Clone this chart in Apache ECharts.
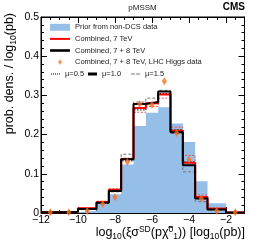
<!DOCTYPE html>
<html>
<head>
<meta charset="utf-8">
<script src="https://cdn.jsdelivr.net/npm/echarts@6/dist/echarts.min.js"></script>
<style>
html,body{margin:0;padding:0;background:#fff;}
#c{width:258px;height:247px;}
</style>
</head>
<body>
<div id="c"></div>
<script>
// Bin edges (log10 of cross section, variable width)
const edges = [-12, -11, -10, -9, -8.333, -7.667, -7, -6.333, -5.667, -5, -4.333, -3.667, -3, -2, -1];
// Prior from non-DCS data
const prior = [0.001, 0.002, 0.006, 0.023, 0.048, 0.124, 0.222, 0.256, 0.270, 0.228, 0.181, 0.081, 0.025, 0.000];
// Combined, 7 TeV (mu = 1.0)
const comb7 = [0.002, 0.003, 0.012, 0.028, 0.059, 0.138, 0.268, 0.280, 0.302, 0.210, 0.128, 0.041, 0.011, 0.001];
// Combined, 7 TeV, mu variation
const comb7mu = [0.002, 0.003, 0.013, 0.030, 0.062, 0.140, 0.257, 0.272, 0.293, 0.219, 0.147, 0.046, 0.013, 0.001];
// Combined, 7 + 8 TeV (mu = 1.0)
const comb78 = [0.002, 0.003, 0.010, 0.026, 0.056, 0.137, 0.278, 0.283, 0.310, 0.206, 0.122, 0.037, 0.009, 0.001];
// Combined, 7 + 8 TeV, mu = 0.5
const comb78mu05 = [0.002, 0.003, 0.010, 0.026, 0.055, 0.133, 0.263, 0.280, 0.305, 0.212, 0.130, 0.040, 0.010, 0.001];
// Combined, 7 + 8 TeV, mu = 1.5
const comb78mu15 = [0.002, 0.003, 0.009, 0.025, 0.054, 0.150, 0.283, 0.293, 0.313, 0.203, 0.105, 0.029, 0.008, 0.001];
// Combined, 7 + 8 TeV, LHC Higgs data (points at bin centres)
const higgs = [0.002, 0.002, 0.005, 0.023, 0.041, 0.130, 0.278, 0.276, 0.336, 0.204, 0.136, 0.037, 0.005, 0.002];
// Tick labels
const xTicks = [-12, -10, -8, -6, -4, -2];
const yTicks = [0, 0.1, 0.2, 0.3, 0.4, 0.5];

function stepData(vals) {
  return edges.map((e, i) => [e, i < vals.length ? vals[i] : vals[vals.length - 1]]);
}
const centres = higgs.map((v, i) => [(edges[i] + edges[i + 1]) / 2, v]);

const FONT = 'Liberation Sans';
const chart = echarts.init(document.getElementById('c'), null, {renderer: 'canvas'});
const fmtX = v => xTicks.indexOf(v) >= 0 ? (v < 0 ? '\u2212' + (-v) : String(v)) : '';
const fmtY = v => {
  const r = Math.round(v * 10) / 10;
  return yTicks.indexOf(r) >= 0 && Math.abs(r - v) < 1e-6 ? String(r) : '';
};

const lineBase = {type: 'line', step: 'end', symbol: 'none', showSymbol: false, silent: true, animation: false};
const legText = {fontFamily: FONT, fontSize: 7.5, color: '#222', lineHeight: 11.6};

const ICON_RED = 'path://M0,0H20V2H0Z';
const ICON_BLACK = 'path://M0,0H20V2.6H0Z';
const ICON_DIAMOND = 'path://M2,0L2.4,1.6L4,3.5L2.4,5.4L2,7L1.6,5.4L0,3.5L1.6,1.6Z';
const ICON_DOT = 'path://M0,0H1V1H0Z M2,0H3V1H2Z M4,0H5V1H4Z M6,0H7V1H6Z M8,0H9V1H8Z';
const ICON_THICK = 'path://M0,0H9V3H0Z';
const ICON_DASH = 'path://M0,0H4V0.8H0Z M5,0H9V0.8H5Z';

chart.setOption({
  animation: false,
  backgroundColor: '#fff',
  grid: {left: 41, right: 13.5, top: 17, bottom: 34, show: true, borderColor: '#000', borderWidth: 1, backgroundColor: 'transparent'},
  xAxis: [{
    type: 'value', min: -12, max: -1, interval: 2,
    axisLine: {show: true, onZero: false, lineStyle: {color: '#000', width: 1}},
    axisTick: {show: true, inside: true, length: 6, lineStyle: {color: '#000'}},
    minorTick: {show: true, splitNumber: 4, length: 3, lineStyle: {color: '#000'}},
    splitLine: {show: false},
    axisLabel: {color: '#000', fontFamily: FONT, fontSize: 10.5, margin: 2, formatter: fmtX, showMaxLabel: false}
  }, {
    type: 'value', min: -12, max: -1, interval: 2, position: 'top',
    axisLine: {show: true, onZero: false, lineStyle: {color: '#000'}},
    axisTick: {show: true, inside: true, length: 6, lineStyle: {color: '#000'}},
    minorTick: {show: true, splitNumber: 4, length: 3, lineStyle: {color: '#000'}},
    splitLine: {show: false}, axisLabel: {show: false}
  }],
  yAxis: [{
    type: 'value', min: 0, max: 0.5, interval: 0.1,
    axisLine: {show: true, onZero: false, lineStyle: {color: '#000'}},
    axisTick: {show: true, inside: true, length: 6, lineStyle: {color: '#000'}},
    minorTick: {show: true, splitNumber: 5, length: 3, lineStyle: {color: '#000'}},
    splitLine: {show: false},
    axisLabel: {color: '#000', fontFamily: FONT, fontSize: 10.5, margin: 2, formatter: fmtY}
  }, {
    type: 'value', min: 0, max: 0.5, interval: 0.1, position: 'right',
    axisLine: {show: true, onZero: false, lineStyle: {color: '#000'}},
    axisTick: {show: true, inside: true, length: 6, lineStyle: {color: '#000'}},
    minorTick: {show: true, splitNumber: 5, length: 3, lineStyle: {color: '#000'}},
    splitLine: {show: false}, axisLabel: {show: false}
  }],
  legend: [{
    left: 50, top: 21.5, orient: 'vertical', padding: 0, itemGap: 0,
    itemWidth: 20, itemHeight: 7, selectedMode: false, symbolKeepAspect: true,
    textStyle: legText,
    data: [
      {name: 'Prior from non-DCS data', icon: 'rect'},
      {name: 'Combined, 7 TeV', icon: ICON_RED},
      {name: 'Combined, 7 + 8 TeV', icon: ICON_BLACK},
      {name: 'Combined, 7 + 8 TeV, LHC Higgs data', icon: ICON_DIAMOND}
    ]
  }, {
    left: 51, top: 68.2, padding: 0, itemWidth: 9, itemHeight: 7, selectedMode: false, symbolKeepAspect: true,
    textStyle: legText, data: [{name: '\u03bc=0.5', icon: ICON_DOT}]
  }, {
    left: 88, top: 68.2, padding: 0, itemWidth: 9, itemHeight: 7, selectedMode: false, symbolKeepAspect: true,
    textStyle: legText, data: [{name: '\u03bc=1.0', icon: ICON_THICK}]
  }, {
    left: 131, top: 68.2, padding: 0, itemWidth: 9, itemHeight: 7, selectedMode: false, symbolKeepAspect: true,
    textStyle: legText, data: [{name: '\u03bc=1.5', icon: ICON_DASH}]
  }],
  graphic: [
    {type: 'text', style: {text: 'pMSSM', x: 142.5, y: 7.5, align: 'center', verticalAlign: 'middle', fontFamily: FONT, fontSize: 8, fill: '#222'}},
    {type: 'text', style: {text: 'CMS', x: 245, y: 7.5, align: 'right', verticalAlign: 'middle', fontFamily: FONT, fontSize: 10, fontWeight: 'bold', fill: '#000'}},
    {type: 'text', x: 10, y: 13, rotation: Math.PI / 2,
      style: {
        text: 'prob. dens. / log{s|10}(pb)', align: 'right', verticalAlign: 'middle',
        fontFamily: FONT, fontSize: 12.5, fill: '#000',
        rich: {s: {fontFamily: FONT, fontSize: 8.5, padding: [7, 0, 0, 0], fill: '#000'}}
      }},
    {type: 'text', x: 245, y: 233,
      style: {
        text: 'log{s|10}(\u03be\u03c3{p|SD}(p\u03c7\u0303{p|0}{s|1})) [log{s|10}(pb)]', align: 'right', verticalAlign: 'middle',
        fontFamily: FONT, fontSize: 12.5, fill: '#000',
        rich: {
          s: {fontFamily: FONT, fontSize: 8.5, padding: [7, 0, 0, 0], fill: '#000'},
          p: {fontFamily: FONT, fontSize: 8.5, padding: [0, 0, 7, 0], fill: '#000'}
        }
      }}
  ],
  series: [
    Object.assign({}, lineBase, {
      name: 'Prior from non-DCS data', data: stepData(prior),
      itemStyle: {color: '#96bfe8'}, lineStyle: {width: 0, color: '#96bfe8'},
      areaStyle: {color: '#96bfe8', opacity: 1}, z: 1
    }),
    Object.assign({}, lineBase, {
      name: '\u03bc=1.5', data: stepData(comb78mu15),
      itemStyle: {color: '#777'}, lineStyle: {width: 1, color: '#777', type: [3, 2]}, z: 2
    }),
    Object.assign({}, lineBase, {
      name: 'comb7mu', data: stepData(comb7mu),
      itemStyle: {color: '#f05050'}, lineStyle: {width: 1, color: '#f05050', type: [2, 1.5]}, z: 2
    }),
    Object.assign({}, lineBase, {
      name: '\u03bc=0.5', data: stepData(comb78mu05),
      itemStyle: {color: '#000'}, lineStyle: {width: 1, color: '#000', type: [1.5, 1.5]}, z: 3
    }),
    Object.assign({}, lineBase, {
      name: 'Combined, 7 TeV', data: stepData(comb7),
      itemStyle: {color: '#ff0000'}, lineStyle: {width: 2, color: '#ff0000'}, z: 4
    }),
    Object.assign({}, lineBase, {
      name: 'Combined, 7 + 8 TeV', data: stepData(comb78),
      itemStyle: {color: '#000'}, lineStyle: {width: 2, color: '#000'}, z: 5
    }),
    Object.assign({}, lineBase, {
      name: '\u03bc=1.0', data: [],
      itemStyle: {color: '#000'}, lineStyle: {width: 2.5, color: '#000'}, z: 5
    }),
    {
      type: 'scatter', name: 'Combined, 7 + 8 TeV, LHC Higgs data', data: centres,
      symbol: 'diamond', symbolSize: [5, 8], itemStyle: {color: '#f7701e'}, z: 6, silent: true
    }
  ]
});
</script>
</body>
</html>
